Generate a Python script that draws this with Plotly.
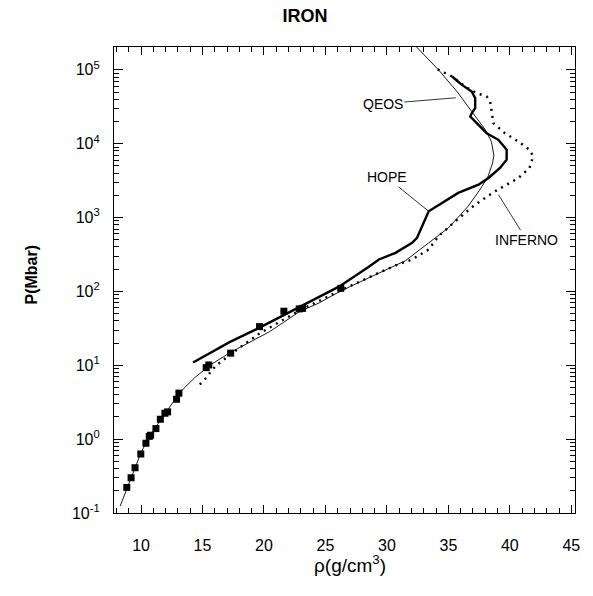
import math
import plotly.graph_objects as go

# experimental data (squares)
exp_rho = [8.84, 9.19, 9.51, 9.98, 10.40, 10.67, 10.78, 11.21, 11.57, 11.94, 12.16, 12.89, 13.08,
           15.30, 15.51, 17.29, 19.64, 21.62, 22.87, 23.14, 26.25]
exp_p = [0.222, 0.30, 0.41, 0.63, 0.88, 1.09, 1.13, 1.39, 1.86, 2.24, 2.34, 3.47, 4.2,
         9.3, 10.1, 14.6, 33.4, 54, 58, 59, 110]

# QEOS (thin line)
qeos_rho = [8.30, 9.19, 10.0, 10.73, 11.94, 13.16, 14.37, 15.59, 17.29, 18.83, 20.45, 22.87, 24.49,
            26.27, 28.0, 29.6, 31.5, 33.4, 35.0, 36.6, 37.5, 38.2, 38.6, 38.7, 38.5, 38.0, 37.3,
            36.9, 35.7, 34.2, 32.4]
qeos_p = [0.124, 0.30, 0.66, 1.12, 2.2, 4.3, 6.8, 10.0, 15, 20.5, 28.5, 53, 70,
          102, 140, 188, 260, 455, 724, 1420, 2300, 3500, 5500, 7000, 10700, 15500, 22000,
          27300, 51000, 100000, 205000]

# HOPE (thick line)
hope_rho = [14.23, 16.4, 17.2, 19.64, 22.87, 26.1, 28.5, 29.35, 30.7, 32.05, 32.45, 33.0, 33.4,
            35.8, 37.45, 38.26, 39.2, 39.74, 39.74, 39.07, 38.12, 37.31, 36.78, 36.91, 37.18,
            37.18, 36.9, 36.1, 35.3]
hope_p = [10.9, 17.3, 20.6, 32.3, 62, 116, 215, 271, 333, 455, 532, 848, 1217,
          2160, 2790, 3440, 4700, 6080, 8300, 11300, 13900, 19000, 23400, 26000, 30400,
          41500, 50900, 62700, 81300]

# INFERNO (dotted line)
inf_rho = [14.78, 15.32, 15.72, 16.13, 18.0, 19.64, 22.87, 26.1, 29.35, 30.7, 32.05, 33.4, 34.2,
           35.56, 37.18, 38.8, 40.7, 41.6, 41.9, 41.6, 40.7, 39.6, 38.66, 38.5, 38.4, 38.12,
           37.31, 36.37, 35.3, 34.07]
inf_p = [5.5, 6.8, 8.4, 10, 17.3, 27, 55, 101, 179, 225, 271, 370, 559,
         891, 1500, 2270, 3440, 4700, 6760, 8300, 10700, 13900, 19000, 27300, 37300, 43700,
         48400, 59500, 81300, 103000]

# curve labels: text, anchor point on curve (rho, P)
label_text = ["QEOS", "HOPE", "INFERNO"]
label_rho = [35.6, 33.4, 39.07]
label_p = [41900, 1217, 2046]

x_ticks = [10, 15, 20, 25, 30, 35, 40, 45]
y_exps = [-1, 0, 1, 2, 3, 4, 5]

FONT = "Liberation Sans, Arial, sans-serif"

fig = go.Figure()
fig.add_trace(go.Scatter(x=qeos_rho, y=qeos_p, mode="lines",
                         line=dict(color="black", width=0.9), showlegend=False))
fig.add_trace(go.Scatter(x=hope_rho, y=hope_p, mode="lines",
                         line=dict(color="black", width=2.4), showlegend=False))
fig.add_trace(go.Scatter(x=inf_rho, y=inf_p, mode="lines",
                         line=dict(color="black", width=2.4, dash="2px,5px"), showlegend=False))
fig.add_trace(go.Scatter(x=exp_rho, y=exp_p, mode="markers",
                         marker=dict(symbol="square", size=7, color="black"), showlegend=False))

W, H = 593, 596
ml, mr, mt, mb = 114, 18, 47, 83
pw, ph = W - ml - mr, H - mt - mb

def px_to_paper(px, py):
    return (px - ml) / pw, (H - mb - py) / ph

annots = []
offsets = [(-73, 6), (-42, -34), (28, 45)]
for text, xv, yv, (ax, ay) in zip(label_text, label_rho, label_p, offsets):
    annots.append(dict(x=xv, y=math.log10(yv), xref="x", yref="y", text=text, showarrow=True,
                       arrowhead=0, arrowwidth=0.8, arrowcolor="black", ax=ax, ay=ay,
                       font=dict(family=FONT, size=14, color="black")))
xl, yl = px_to_paper(20, 275)
annots.append(dict(x=xl, y=yl, xref="paper", yref="paper", text="<b>P(Mbar)</b>",
                   textangle=-90, showarrow=False, font=dict(family=FONT, size=16, color="black")))
xl, yl = px_to_paper(350, 578)
annots.append(dict(x=xl, y=yl, xref="paper", yref="paper", text="ρ(g/cm<sup>3</sup>)",
                   showarrow=False, font=dict(family=FONT, size=19, color="black")))

fig.update_layout(
    width=W, height=H,
    margin=dict(l=ml, r=mr, t=mt, b=mb),
    paper_bgcolor="white", plot_bgcolor="white",
    title=dict(text="<b>IRON</b>", x=305 / W, xref="container", xanchor="center",
               y=1 - 16 / H, yref="container", yanchor="middle",
               font=dict(family=FONT, size=18, color="black")),
    annotations=annots,
    font=dict(family=FONT, color="black"),
)
fig.update_xaxes(range=[7.8, 45.3], tickvals=x_ticks, ticktext=[str(v) for v in x_ticks],
                 ticks="inside", ticklen=8, tickwidth=1, tickcolor="black",
                 minor=dict(dtick=1, ticks="inside", ticklen=5, tickcolor="black"),
                 showline=True, linecolor="black", linewidth=1.2, mirror="allticks",
                 showgrid=False, zeroline=False, ticklabelstandoff=18,
                 tickfont=dict(family=FONT, size=16, color="black"))
fig.update_yaxes(type="log", range=[-1, 5.31],
                 tickvals=[10 ** e for e in y_exps],
                 ticktext=["10<sup>%d</sup>" % e for e in y_exps],
                 ticks="inside", ticklen=9, tickwidth=1, tickcolor="black",
                 minor=dict(dtick="D1", ticks="inside", ticklen=5, tickcolor="black"),
                 showline=True, linecolor="black", linewidth=1.2, mirror="allticks",
                 showgrid=False, zeroline=False, ticklabelstandoff=10,
                 tickfont=dict(family=FONT, size=16, color="black"))

fig.write_html("out.html")
